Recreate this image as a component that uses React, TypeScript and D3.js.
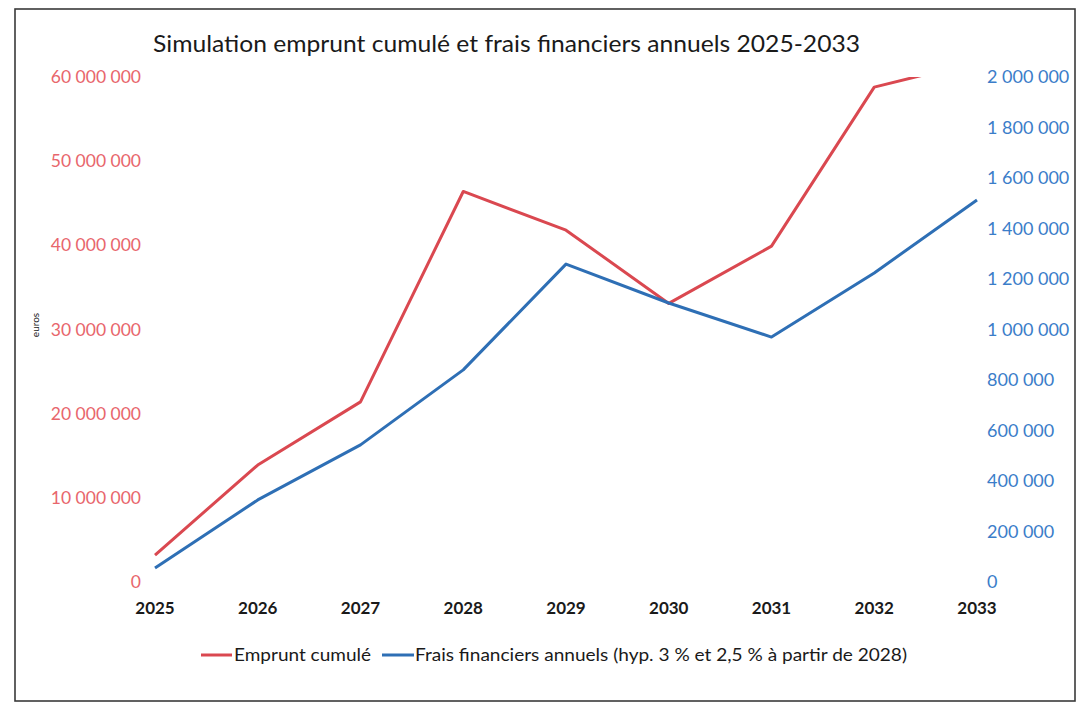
import React from "react";
import * as d3 from "d3";

const years = ["2025", "2026", "2027", "2028", "2029", "2030", "2031", "2032", "2033"];
const empruntCumule = [3.2e6, 13.9e6, 21.4e6, 46.4e6, 41.8e6, 33.1e6, 39.9e6, 58.8e6, 61.8e6];
const fraisFinanciers = [55e3, 325e3, 543e3, 840e3, 1259e3, 1105e3, 970e3, 1224e3, 1513e3];
const leftTicks = [0, 10e6, 20e6, 30e6, 40e6, 50e6, 60e6];
const rightTicks = [0, 200e3, 400e3, 600e3, 800e3, 1000e3, 1200e3, 1400e3, 1600e3, 1800e3, 2000e3];
const title = "Simulation emprunt cumulé et frais financiers annuels 2025-2033";
const legendLabels = ["Emprunt cumulé", "Frais financiers annuels (hyp. 3 % et 2,5 % à partir de 2028)"];
const yAxisTitle = "euros";

const W = 1080;
const H = 706;
const RED = "#DA4850";
const RED_TXT = "#E8666C";
const BLUE = "#2E6FB5";
const BLUE_TXT = "#3B7DC9";
const FONT = "Lato, 'Open Sans', sans-serif";

const fmt = (v: number) =>
  Math.round(v)
    .toString()
    .replace(/\B(?=(\d{3})+(?!\d))/g, " ");

export default function App() {
  const x = d3.scalePoint<string>().domain(years).range([155, 977]);
  const yL = d3.scaleLinear().domain([0, 60e6]).range([582, 77]);
  const yR = d3.scaleLinear().domain([0, 2e6]).range([582, 77]);

  const redLine = d3
    .line<number>()
    .x((_, i) => x(years[i]) as number)
    .y((d) => yL(d));
  const blueLine = d3
    .line<number>()
    .x((_, i) => x(years[i]) as number)
    .y((d) => yR(d));

  return (
    <svg width={W} height={H} style={{ position: "absolute", left: 0, top: 0, background: "#fff" }}>
      <defs>
        <clipPath id="plotClip">
          <rect x={100} y={yL(60e6)} width={950} height={yL(0) - yL(60e6) + 20} />
        </clipPath>
      </defs>
      <rect x={0} y={0} width={W} height={H} fill="#fff" />
      <rect x={15} y={9} width={1060} height={692} fill="none" stroke="#3a3a3a" strokeWidth={1.6} />

      <text
        x={153}
        y={52}
        fontFamily={FONT}
        fontSize={24}
        fill="#1a1a1a"
        textLength={707}
        lengthAdjust="spacingAndGlyphs"
      >
        {title}
      </text>

      {leftTicks.map((t) => (
        <text
          key={"l" + t}
          x={141}
          y={yL(t)}
          dy="0.35em"
          textAnchor="end"
          fontFamily={FONT}
          fontSize={17.5}
          fill={RED_TXT}
        >
          {fmt(t)}
        </text>
      ))}

      {rightTicks.map((t) => (
        <text
          key={"r" + t}
          x={987}
          y={yR(t)}
          dy="0.35em"
          textAnchor="start"
          fontFamily={FONT}
          fontSize={18}
          fill={BLUE_TXT}
        >
          {fmt(t)}
        </text>
      ))}

      {years.map((yr) => (
        <text
          key={yr}
          x={x(yr) as number}
          y={614}
          textAnchor="middle"
          fontFamily={FONT}
          fontSize={17}
          fontWeight={700}
          fill="#1a1a1a"
        >
          {yr}
        </text>
      ))}

      <text
        transform={`translate(39, 325) rotate(-90)`}
        textAnchor="middle"
        fontFamily={FONT}
        fontSize={10}
        fill="#1a1a1a"
      >
        {yAxisTitle}
      </text>

      <g clipPath="url(#plotClip)">
        <path d={redLine(empruntCumule) || ""} fill="none" stroke={RED} strokeWidth={3} strokeLinejoin="round" />
        <path d={blueLine(fraisFinanciers) || ""} fill="none" stroke={BLUE} strokeWidth={3} strokeLinejoin="round" />
      </g>

      <line x1={201} x2={232} y1={655} y2={655} stroke={RED} strokeWidth={3} />
      <text
        x={234}
        y={661}
        fontFamily={FONT}
        fontSize={17}
        fill="#1a1a1a"
        textLength={137}
        lengthAdjust="spacingAndGlyphs"
      >
        {legendLabels[0]}
      </text>
      <line x1={382} x2={414} y1={655} y2={655} stroke={BLUE} strokeWidth={3} />
      <text
        x={415}
        y={661}
        fontFamily={FONT}
        fontSize={17}
        fill="#1a1a1a"
        textLength={492}
        lengthAdjust="spacingAndGlyphs"
      >
        {legendLabels[1]}
      </text>
    </svg>
  );
}
